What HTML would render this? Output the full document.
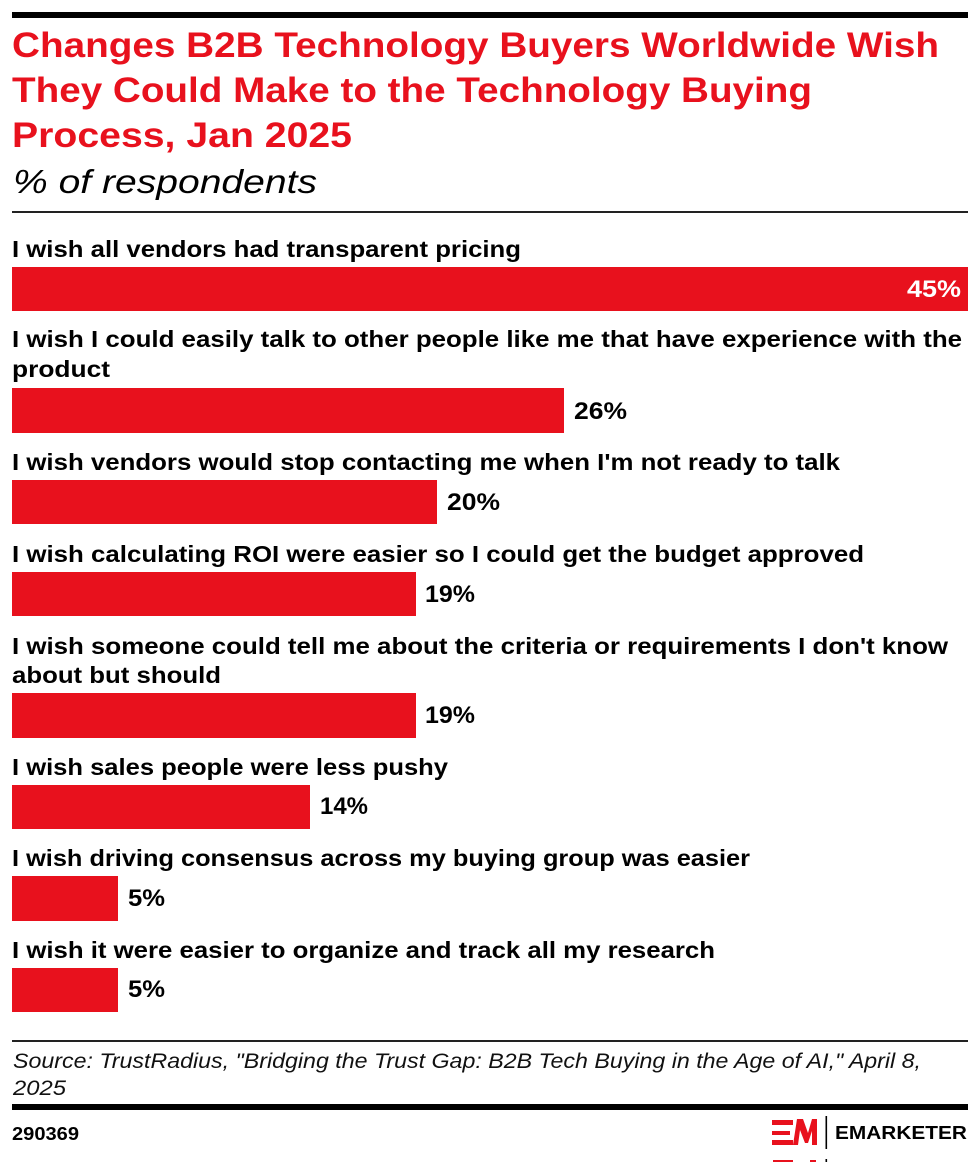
<!DOCTYPE html>
<html>
<head>
<meta charset="utf-8">
<style>
  html, body { margin:0; padding:0; background:#fff; }
  body { width:980px; height:1162px; overflow:hidden; }
  svg { display:block; }
  .t { font-family:"Liberation Sans", Arial, sans-serif; }
  .title { font-weight:bold; font-size:35px; fill:#e8111d; }
  .sub { font-style:italic; font-size:33px; fill:#000; }
  .lab { font-weight:bold; font-size:23px; fill:#000; }
  .val { font-weight:bold; font-size:24px; fill:#000; }
  .src { font-style:italic; font-size:21px; fill:#111; }
</style>
</head>
<body>
<svg width="980" height="1162" viewBox="0 0 980 1162" xmlns="http://www.w3.org/2000/svg">
  <rect x="0" y="0" width="980" height="1162" fill="#fff"/>
  <!-- top bar -->
  <rect x="12" y="12" width="956" height="6" fill="#000"/>

  <!-- title -->
  <text class="t title" x="12" y="57" textLength="927" lengthAdjust="spacingAndGlyphs">Changes B2B Technology Buyers Worldwide Wish</text>
  <text class="t title" x="12" y="102" textLength="800" lengthAdjust="spacingAndGlyphs">They Could Make to the Technology Buying</text>
  <text class="t title" x="12" y="147" textLength="340" lengthAdjust="spacingAndGlyphs">Process, Jan 2025</text>

  <!-- subtitle -->
  <text class="t sub" x="13" y="193" textLength="304" lengthAdjust="spacingAndGlyphs">% of respondents</text>
  <rect x="12" y="211" width="956" height="2" fill="#222"/>

  <!-- labels -->
  <text class="t lab" x="12" y="257" textLength="509" lengthAdjust="spacingAndGlyphs">I wish all vendors had transparent pricing</text>
  <text class="t lab" x="12" y="347" textLength="950" lengthAdjust="spacingAndGlyphs">I wish I could easily talk to other people like me that have experience with the</text>
  <text class="t lab" x="12" y="377" textLength="98" lengthAdjust="spacingAndGlyphs">product</text>
  <text class="t lab" x="12" y="470" textLength="828" lengthAdjust="spacingAndGlyphs">I wish vendors would stop contacting me when I'm not ready to talk</text>
  <text class="t lab" x="12" y="562" textLength="852" lengthAdjust="spacingAndGlyphs">I wish calculating ROI were easier so I could get the budget approved</text>
  <text class="t lab" x="12" y="654" textLength="936" lengthAdjust="spacingAndGlyphs">I wish someone could tell me about the criteria or requirements I don't know</text>
  <text class="t lab" x="12" y="683" textLength="209" lengthAdjust="spacingAndGlyphs">about but should</text>
  <text class="t lab" x="12" y="775" textLength="436" lengthAdjust="spacingAndGlyphs">I wish sales people were less pushy</text>
  <text class="t lab" x="12" y="866" textLength="738" lengthAdjust="spacingAndGlyphs">I wish driving consensus across my buying group was easier</text>
  <text class="t lab" x="12" y="958" textLength="703" lengthAdjust="spacingAndGlyphs">I wish it were easier to organize and track all my research</text>

  <!-- bars -->
  <g fill="#e8111d">
    <rect x="12" y="267" width="956" height="44"/>
    <rect x="12" y="388" width="552" height="45"/>
    <rect x="12" y="480" width="425" height="44"/>
    <rect x="12" y="572" width="404" height="44"/>
    <rect x="12" y="693" width="404" height="45"/>
    <rect x="12" y="785" width="298" height="44"/>
    <rect x="12" y="876" width="106" height="45"/>
    <rect x="12" y="968" width="106" height="44"/>
  </g>

  <!-- values -->
  <text class="t val" x="907" y="297" textLength="54" lengthAdjust="spacingAndGlyphs" style="fill:#fff">45%</text>
  <text class="t val" x="574" y="419" textLength="53" lengthAdjust="spacingAndGlyphs">26%</text>
  <text class="t val" x="447" y="510" textLength="53" lengthAdjust="spacingAndGlyphs">20%</text>
  <text class="t val" x="425" y="602" textLength="50" lengthAdjust="spacingAndGlyphs">19%</text>
  <text class="t val" x="425" y="723" textLength="50" lengthAdjust="spacingAndGlyphs">19%</text>
  <text class="t val" x="320" y="814" textLength="48" lengthAdjust="spacingAndGlyphs">14%</text>
  <text class="t val" x="128" y="906" textLength="37" lengthAdjust="spacingAndGlyphs">5%</text>
  <text class="t val" x="128" y="997" textLength="37" lengthAdjust="spacingAndGlyphs">5%</text>

  <!-- footer -->
  <rect x="12" y="1040" width="956" height="2" fill="#222"/>
  <text class="t src" x="13" y="1068" textLength="908" lengthAdjust="spacingAndGlyphs">Source: TrustRadius, "Bridging the Trust Gap: B2B Tech Buying in the Age of AI," April 8,</text>
  <text class="t src" x="13" y="1095" textLength="53" lengthAdjust="spacingAndGlyphs">2025</text>
  <rect x="12" y="1104" width="956" height="6" fill="#000"/>
  <text class="t" x="12" y="1140" textLength="67" lengthAdjust="spacingAndGlyphs" style="font-weight:bold;font-size:18px;fill:#000">290369</text>

  <!-- logo -->
  <g fill="#e8111d">
    <rect x="772" y="1120" width="21" height="5"/>
    <rect x="772" y="1131" width="18" height="4"/>
    <rect x="772" y="1140" width="21" height="5"/>
    <polygon points="793,1145 797,1119 803,1119 808,1133 812,1119 817,1119 817,1145 812,1145 812,1131 808,1143 805,1143 800,1130 798,1145"/>
    <rect x="773" y="1160" width="20" height="2"/>
    <rect x="810" y="1160" width="6" height="2"/>
  </g>
  <rect x="825.5" y="1116" width="1.6" height="33" fill="#000"/>
  <rect x="825.5" y="1159" width="1.6" height="3" fill="#000"/>
  <text class="t" x="835" y="1139" textLength="132" lengthAdjust="spacingAndGlyphs" style="font-weight:bold;font-size:18px;fill:#000">EMARKETER</text>
</svg>
</body>
</html>
